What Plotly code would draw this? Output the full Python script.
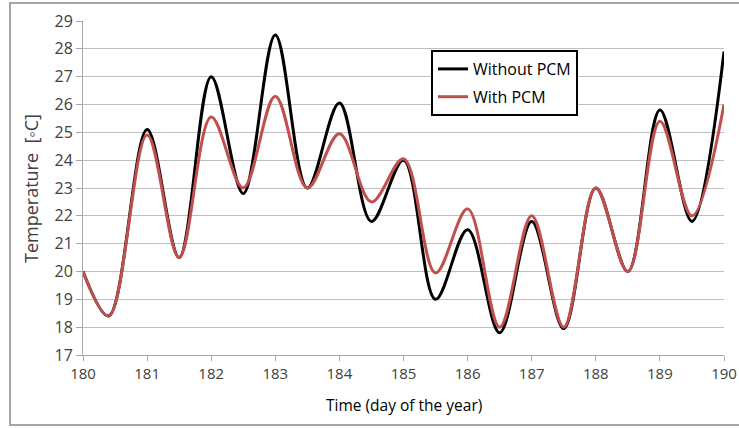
import plotly.graph_objects as go

# Data
time_days = [180.0, 180.4, 181.0, 181.5, 182.0, 182.5, 183.0, 183.5, 184.0, 184.5, 185.0,
             185.5, 186.0, 186.5, 187.0, 187.5, 188.0, 188.5, 189.0, 189.5, 190.0]
without_pcm = [20.0, 18.4, 25.1, 20.5, 27.0, 22.8, 28.5, 23.0, 26.05, 21.8, 24.0,
               19.0, 21.5, 17.8, 21.8, 17.95, 23.0, 20.0, 25.8, 21.8, 27.9]
with_pcm = [20.0, 18.4, 24.9, 20.5, 25.55, 23.0, 26.3, 23.0, 24.95, 22.5, 24.05,
            19.95, 22.25, 18.0, 22.0, 18.0, 23.0, 20.0, 25.4, 22.0, 26.0]
x_ticks = list(range(180, 191))
y_ticks = list(range(17, 30))

FONT = "Open Sans"
TXT = "#404040"

W, H = 739, 428
L, R, T, B = 83, 15, 21, 73
PW, PH = W - L - R, H - T - B


def px_x(p):
    return (p - L) / PW


def px_y(p):
    return (H - B - p) / PH


fig = go.Figure()
fig.add_trace(go.Scatter(x=time_days, y=without_pcm, mode="lines", name="Without PCM",
                         legendgroup="a",
                         line=dict(color="#000000", width=3, shape="spline", smoothing=1.0)))
fig.add_trace(go.Scatter(x=time_days, y=with_pcm, mode="lines", name="With PCM",
                         legendgroup="b",
                         line=dict(color="#c0504d", width=3, shape="spline", smoothing=1.0)))

fig.update_layout(
    width=W, height=H,
    margin=dict(l=L, r=R, t=T, b=B),
    paper_bgcolor="white", plot_bgcolor="white",
    font=dict(family=FONT, size=15, color=TXT),
    showlegend=True,
    legend=dict(x=px_x(431), y=px_y(50), xanchor="left", yanchor="top",
                bgcolor="white", bordercolor="black", borderwidth=2,
                font=dict(family=FONT, size=16, color="#000000"),
                tracegroupgap=4, itemwidth=30),
    xaxis=dict(range=[180, 190], tickvals=x_ticks, ticktext=[str(v) for v in x_ticks],
               showgrid=False, zeroline=False, showline=True, linecolor="#a6a6a6", linewidth=1,
               ticks="outside", ticklen=5, tickcolor="#a6a6a6", automargin=False,
               tickfont=dict(size=15, color=TXT)),
    yaxis=dict(range=[17, 29], tickvals=y_ticks, ticktext=[str(v) for v in y_ticks],
               showgrid=True, gridcolor="#bfbfbf", gridwidth=1, zeroline=False,
               showline=True, linecolor="#a6a6a6", linewidth=1,
               ticks="outside", ticklen=6, tickcolor="#a6a6a6", automargin=False,
               tickfont=dict(size=16, color=TXT)),
    annotations=[
        dict(text="Time (day of the year)", xref="paper", yref="paper",
             x=0.5, y=px_y(405), xanchor="center", yanchor="middle", showarrow=False,
             font=dict(size=15.5, color="#000000")),
        dict(text="Temperature  [◦C]", xref="paper", yref="paper",
             x=px_x(31), y=px_y(189), xanchor="center", yanchor="middle", showarrow=False,
             textangle=-90, font=dict(size=18, color=TXT)),
    ],
    shapes=[dict(type="rect", xref="paper", yref="paper",
                 x0=px_x(10), x1=px_x(745), y0=px_y(425), y1=px_y(3),
                 line=dict(color="#a6a6a6", width=2), layer="below")],
)

fig.write_html("out.html", config={"displayModeBar": False},
               post_script="document.body.style.margin='0px';document.body.style.overflow='hidden';")
